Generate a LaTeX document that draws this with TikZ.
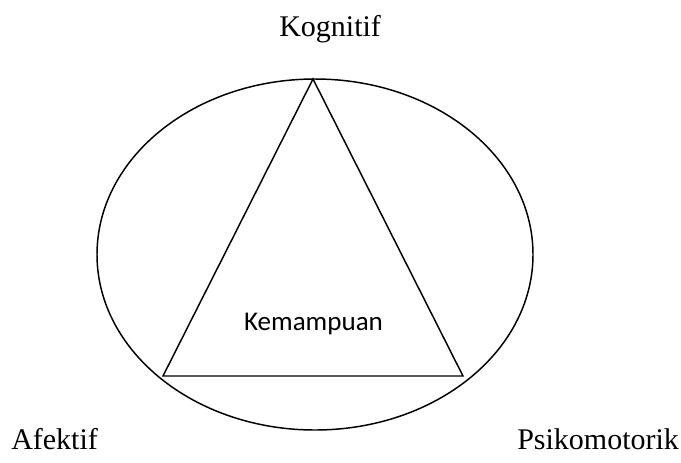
\documentclass[tikz,border=0pt]{standalone}
\usepackage{fontspec}
\setmainfont{Liberation Serif}
\newfontfamily\calfont{Carlito}
\usetikzlibrary{shapes.geometric}
\tikzset{
  outline/.style={draw=black, line width=1.1pt},
  lbl/.style={inner sep=0pt, anchor=base west, font=\fontsize{22.5pt}{27pt}\selectfont},
  inner/.style={inner sep=0pt, anchor=base, font=\calfont\fontsize{20.3pt}{24pt}\selectfont}
}
\begin{document}
\begin{tikzpicture}[x=0.75pt,y=-0.75pt]
\useasboundingbox (0,0) rectangle (681,462);
\node[outline, ellipse, minimum width=436*0.75pt, minimum height=351*0.75pt, inner sep=0pt] (ell) at (315,254.5) {};
\coordinate (top) at (313,79);
\coordinate (bl) at (163,376);
\coordinate (br) at (463,376);
\draw[outline, line join=miter] (top) -- (br) -- (bl) -- cycle;
\node[inner] (kem) at (313.5,330) {Kemampuan};
\node[lbl] (kog) at (279,36) {Kognitif};
\node[lbl] (afe) at (11,449) {Afektif};
\node[lbl] (psi) at (517,449) {Psikomotorik};
\end{tikzpicture}
\end{document}
